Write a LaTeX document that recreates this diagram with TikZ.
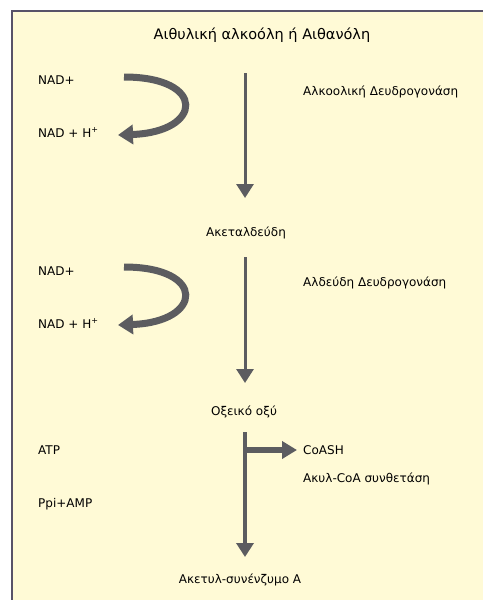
\documentclass[tikz,border=0pt]{standalone}
\usepackage{fontspec}
\setmainfont{DejaVu Sans}
\usepackage{tikz}
\usetikzlibrary{arrows.meta}
\definecolor{paper}{RGB}{255,250,214}
\definecolor{frame}{RGB}{88,82,104}
\definecolor{ink}{RGB}{92,92,96}
\tikzset{>={Triangle[width=17pt,length=14pt]}}
\tikzset{
  compound/.style={anchor=base, inner sep=0pt, font=\fontsize{12}{14}\selectfont},
  side/.style={anchor=base west, inner sep=0pt, font=\fontsize{12}{14}\selectfont},
  mainflow/.style={->, draw=ink, line width=3pt},
  cofactorflow/.style={->, draw=ink, line width=7pt,
    >={Triangle[width=19pt,length=15pt]}},
}

\begin{document}
\begin{tikzpicture}[x=1pt, y=-1pt]
  \useasboundingbox (0,0) rectangle (483,600);
  \fill[paper] (12,11) rectangle (483,600);
  \draw[frame, line width=1.2pt] (12,600) -- (12,11) -- (483,11);

  \newcommand\colx{245}

  %% title and products
  \node[compound, font=\fontsize{14.5}{16}\selectfont] (ethanol) at (262,39) {Αιθυλική αλκοόλη ή Αιθανόλη};
  \node[compound] (acetald) at (246,236) {Ακεταλδεύδη};
  \node[compound] (acetic) at (244,415) {Οξεικό οξύ};
  \node[compound] (acetylcoa) at (240,583) {Ακετυλ-συνένζυμο Α};

  %% cofactors on the left
  \node[side] (nadA) at (38,84) {NAD+};
  \node[side] (nadhA) at (38,137) {NAD + H\textsuperscript{+}};
  \node[side] (nadB) at (38,275) {NAD+};
  \node[side] (nadhB) at (38,328) {NAD + H\textsuperscript{+}};
  \node[side] (atp) at (38,454) {ATP};
  \node[side] (ppi) at (38,507) {Ppi+AMP};

  %% enzymes on the right
  \node[side] (adh) at (303,95) {Αλκοολική Δευδρογονάση};
  \node[side] (aldh) at (303,286) {Αλδεύδη Δευδρογονάση};
  \node[side] (coash) at (303,454) {CoASH};
  \node[side] (acs) at (303,482) {Ακυλ-CoA συνθετάση};

  %% ends of the arrows
  \coordinate (stepAtop) at (\colx,73);
  \coordinate (stepAtip) at (\colx,198);
  \coordinate (stepBtop) at (\colx,257);
  \coordinate (stepBtip) at (\colx,383);
  \coordinate (stepCtop) at (\colx,432);
  \coordinate (stepCtip) at (\colx,557);
  \coordinate (branch) at (\colx,450);
  \coordinate (branchtip) at (297,450);
  \coordinate (loopAin) at (124,77);
  \coordinate (loopAout) at (118,135);
  \coordinate (loopBin) at (124,267);
  \coordinate (loopBout) at (118,325);

  \draw[mainflow] (stepAtop) -- (stepAtip);
  \draw[mainflow] (stepBtop) -- (stepBtip);
  \draw[mainflow, line width=4pt] (stepCtop) -- (stepCtip);
  \draw[mainflow, line width=6pt, >={Triangle[width=17pt,length=15pt]}] (branch) -- (branchtip); %% CoASH out

  %% NAD+ -> NAD + H+
  \draw[cofactorflow] (loopAin) .. controls (207,77) and (203,132) .. (loopAout);
  \draw[cofactorflow] (loopBin) .. controls (207,267) and (203,322) .. (loopBout);
\end{tikzpicture}
\end{document}
